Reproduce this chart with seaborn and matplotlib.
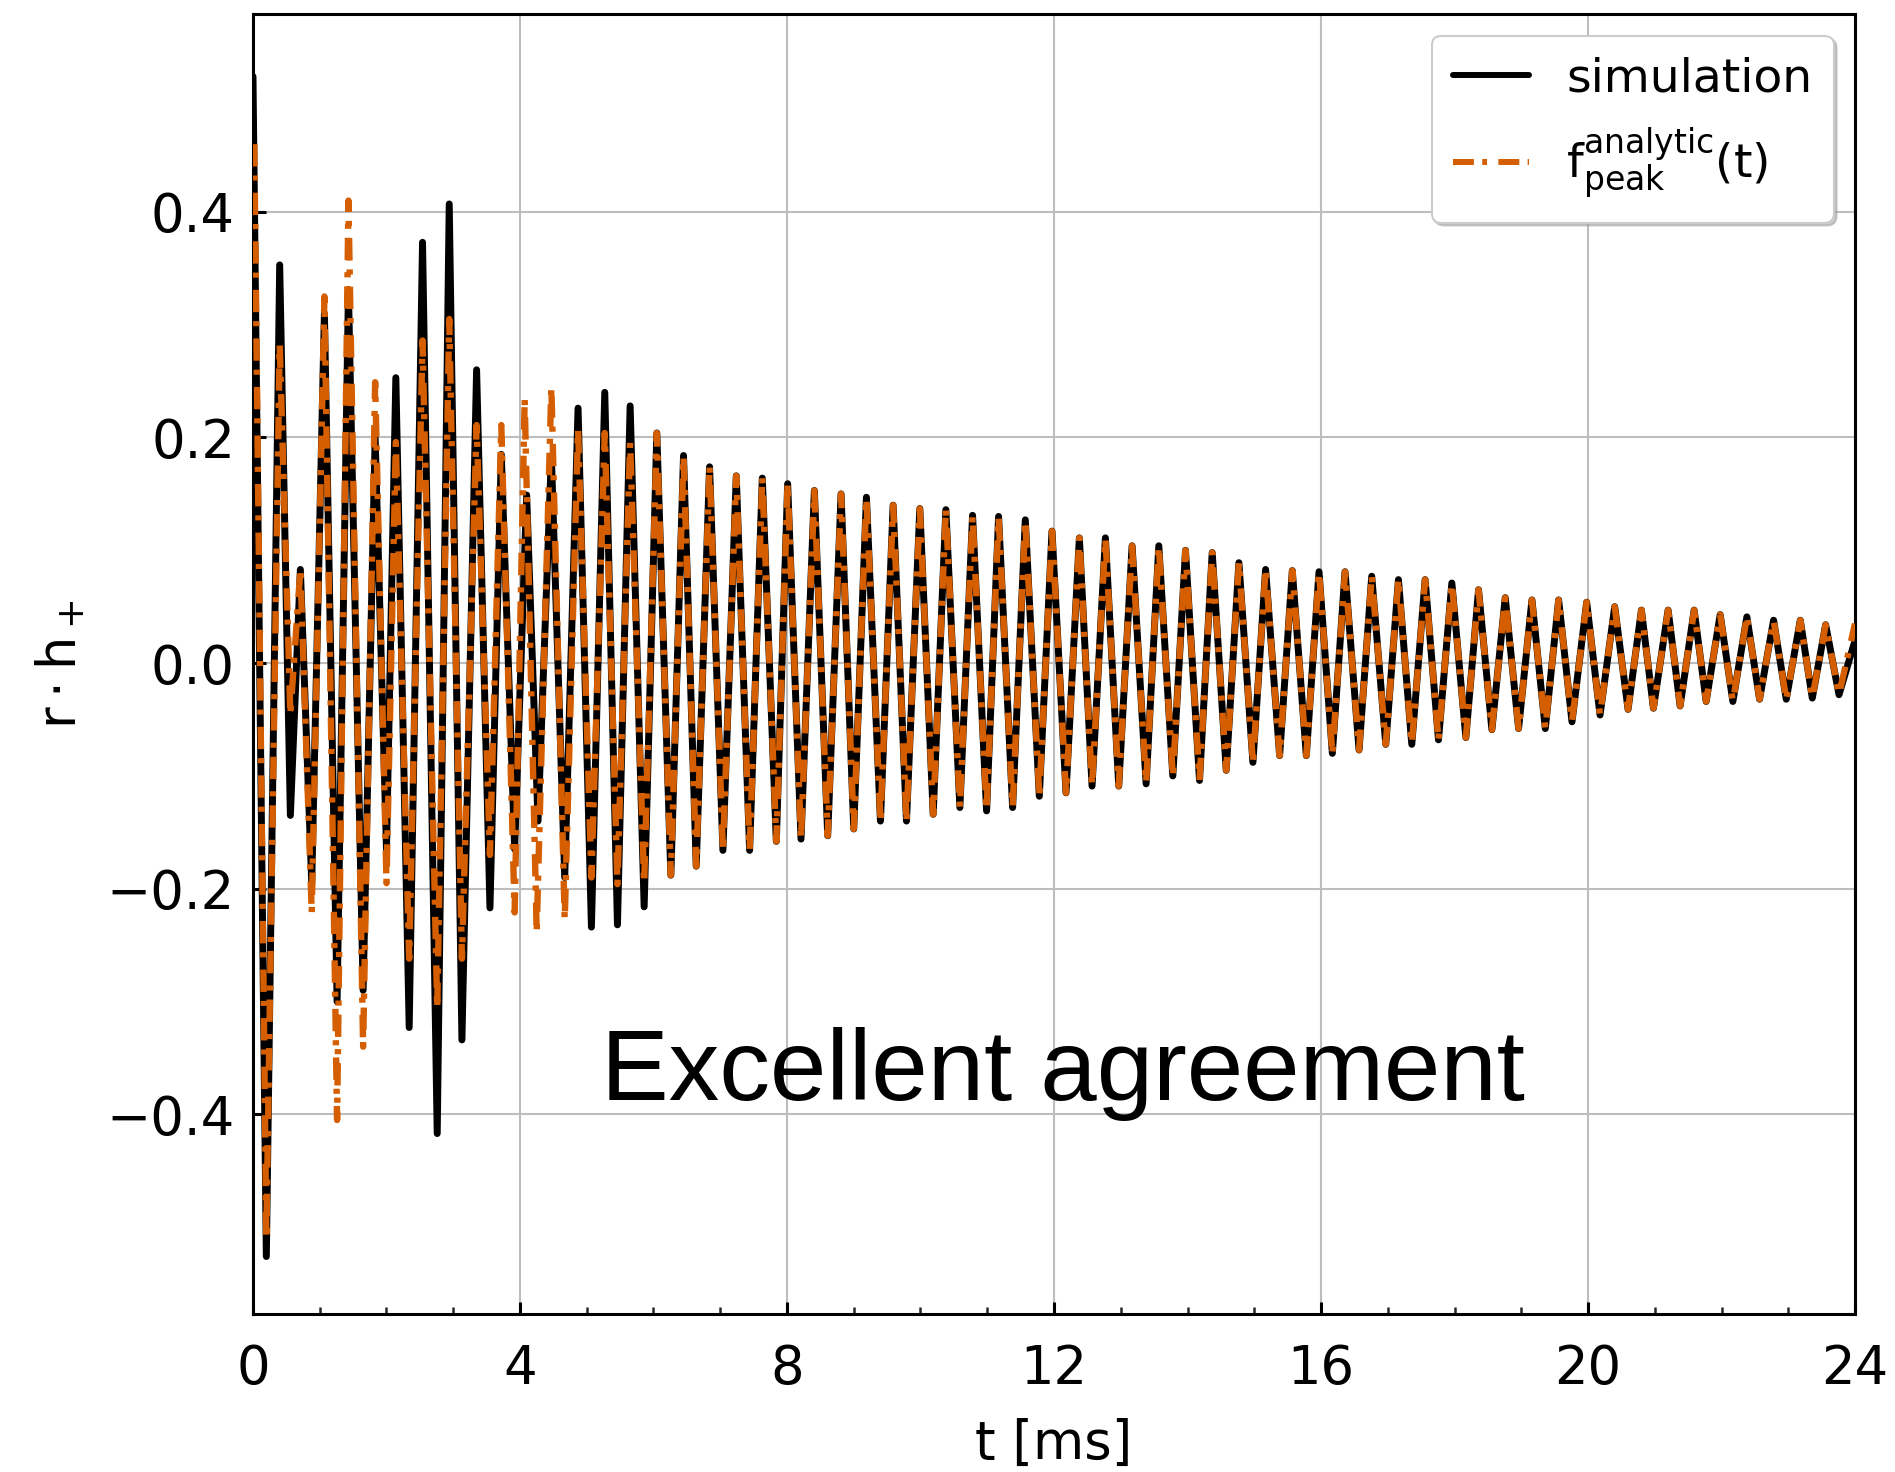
import matplotlib
matplotlib.use("Agg")
import matplotlib.pyplot as plt
import numpy as np
import pandas as pd
import seaborn as sns
from matplotlib.ticker import MultipleLocator

# Extrema of the strain r*h_+ (t in ms) during the merger phase
sim_early_t = [0.00, 0.20, 0.40, 0.56, 0.71, 0.88, 1.07, 1.26, 1.43, 1.65, 1.83, 2.00,
               2.14, 2.34, 2.54, 2.76, 2.94, 3.13, 3.35, 3.55, 3.72, 3.92, 4.10, 4.27,
               4.47, 4.67, 4.87, 5.07, 5.27, 5.46, 5.65, 5.86, 6.05]
sim_early_h = [0.520, -0.526, 0.353, -0.135, 0.083, -0.195, 0.310, -0.300, 0.330, -0.290,
               0.200, -0.165, 0.253, -0.323, 0.373, -0.417, 0.407, -0.334, 0.260, -0.217,
               0.185, -0.165, 0.149, -0.140, 0.184, -0.190, 0.226, -0.234, 0.240, -0.232,
               0.228, -0.216, 0.204]

fit_early_t = [0.02, 0.20, 0.40, 0.56, 0.71, 0.88, 1.07, 1.26, 1.43, 1.65, 1.83, 2.00,
               2.14, 2.34, 2.54, 2.76, 2.94, 3.13, 3.35, 3.55, 3.72, 3.92, 4.07, 4.25,
               4.47, 4.67, 4.87, 5.07, 5.27, 5.46, 5.65, 5.86, 6.05]
fit_early_h = [0.460, -0.510, 0.283, -0.045, 0.083, -0.221, 0.325, -0.405, 0.410, -0.340,
               0.249, -0.195, 0.196, -0.262, 0.286, -0.307, 0.305, -0.262, 0.211, -0.170,
               0.211, -0.221, 0.234, -0.238, 0.245, -0.228, 0.208, -0.190, 0.204, -0.196,
               0.196, -0.196, 0.204]

# Ring-down extrema, followed by both curves
late_t = [6.26, 6.45, 6.64, 6.84, 7.04, 7.24, 7.44, 7.63, 7.84, 8.01, 8.21, 8.41, 8.61,
          8.81, 9.00, 9.19, 9.40, 9.59, 9.79, 9.99, 10.19, 10.38, 10.59, 10.78, 10.99,
          11.17, 11.38, 11.57, 11.78, 11.97, 12.18, 12.38, 12.57, 12.77, 12.97, 13.17,
          13.38, 13.57, 13.78, 13.97, 14.18, 14.37, 14.58, 14.77, 14.98, 15.17, 15.38,
          15.57, 15.78, 15.97, 16.17, 16.36, 16.57, 16.76, 16.97, 17.16, 17.36, 17.56,
          17.76, 17.96, 18.17, 18.36, 18.56, 18.76, 18.96, 19.16, 19.36, 19.56, 19.76,
          19.98, 20.18, 20.40, 20.60, 20.80, 20.98, 21.20, 21.38, 21.59, 21.77, 21.98,
          22.17, 22.38, 22.57, 22.78, 22.97, 23.18, 23.36, 23.56, 23.76]
late_h = [-0.188, 0.184, -0.180, 0.174, -0.166, 0.166, -0.166, 0.164, -0.158, 0.159,
          -0.156, 0.153, -0.153, 0.150, -0.147, 0.147, -0.140, 0.140, -0.140, 0.137,
          -0.134, 0.136, -0.128, 0.131, -0.131, 0.130, -0.128, 0.127, -0.118, 0.117,
          -0.115, 0.111, -0.109, 0.111, -0.109, 0.104, -0.107, 0.104, -0.100, 0.100,
          -0.104, 0.098, -0.095, 0.089, -0.088, 0.083, -0.082, 0.082, -0.082, 0.081,
          -0.080, 0.081, -0.077, 0.077, -0.072, 0.074, -0.072, 0.074, -0.068, 0.071,
          -0.066, 0.065, -0.059, 0.058, -0.058, 0.056, -0.058, 0.056, -0.052, 0.054,
          -0.046, 0.050, -0.041, 0.047, -0.040, 0.047, -0.038, 0.047, -0.034, 0.043,
          -0.034, 0.041, -0.032, 0.038, -0.032, 0.038, -0.031, 0.034, -0.028]

end_t = 24.0
sim_end_h = 0.020
fit_end_h = 0.035

x_ticks = [0, 4, 8, 12, 16, 20, 24]
y_ticks = [-0.4, -0.2, 0.0, 0.2, 0.4]
y_tick_labels = ["\u22120.4", "\u22120.2", "0.0", "0.2", "0.4"]

sim = pd.DataFrame({"t": sim_early_t + late_t + [end_t],
                    "h": sim_early_h + late_h + [sim_end_h]})
fit = pd.DataFrame({"t": fit_early_t + late_t + [end_t],
                    "h": fit_early_h + late_h + [fit_end_h]})

sns.set_theme(style="white")
plt.rcParams["font.family"] = ["DejaVu Sans"]
plt.rcParams["mathtext.default"] = "regular"
plt.rcParams["text.color"] = "black"
plt.rcParams["axes.labelcolor"] = "black"

fig = plt.figure(figsize=(18.95, 14.72), dpi=100)
ax = fig.add_axes([0.1335, 0.1073, 0.8454, 0.8829])

orange = "#d55e00"
sns.lineplot(data=sim, x="t", y="h", ax=ax, color="black", linewidth=5.0,
             estimator=None, sort=False, label="simulation", zorder=3)
sns.lineplot(data=fit, x="t", y="h", ax=ax, color=orange, linewidth=4.6,
             estimator=None, sort=False, label=r"$f^{analytic}_{peak}(t)$", zorder=4,
             linestyle=(0, (3.5, 1.4, 0.8, 1.9)))

ax.set_xlim(0, 24)
ax.set_ylim(-0.577, 0.575)
ax.set_xticks(x_ticks)
ax.set_yticks(y_ticks)
ax.set_yticklabels(y_tick_labels)
ax.xaxis.set_minor_locator(MultipleLocator(1))

ax.grid(True, which="major", color="#bdbdbd", linewidth=1.5)
ax.set_axisbelow(True)
for s in ax.spines.values():
    s.set_color("black")
    s.set_linewidth(2.2)

ax.tick_params(axis="both", which="major", direction="in", length=9, width=2.2,
               labelsize=38, pad=13, colors="black", bottom=True, left=True)
ax.tick_params(axis="x", which="major", pad=21)
ax.tick_params(axis="x", which="minor", direction="in", length=5, width=1.8,
               bottom=True)

ax.set_xlabel("t [ms]", fontsize=38, labelpad=16, color="black")
ax.set_ylabel(r"$r \cdot h_+$", fontsize=38, labelpad=14, color="black")

leg = ax.legend(loc="upper right", fontsize=34, frameon=True, fancybox=True,
                shadow={"color": "0.6", "alpha": 0.5}, framealpha=1.0,
                edgecolor="0.8", handlelength=1.6, handletextpad=0.8,
                labelspacing=0.5, borderaxespad=0.45, borderpad=0.45)
leg.get_frame().set_linewidth(1.5)
for line in leg.get_lines():
    line.set_linewidth(4.3)
for txt in leg.get_texts():
    txt.set_color("black")

ax.text(12.13, -0.387, "Excellent agreement", fontsize=73,
        family=["Liberation Sans", "DejaVu Sans"], ha="center", va="baseline",
        color="black", zorder=6)

fig.savefig("out.png", dpi=100)
